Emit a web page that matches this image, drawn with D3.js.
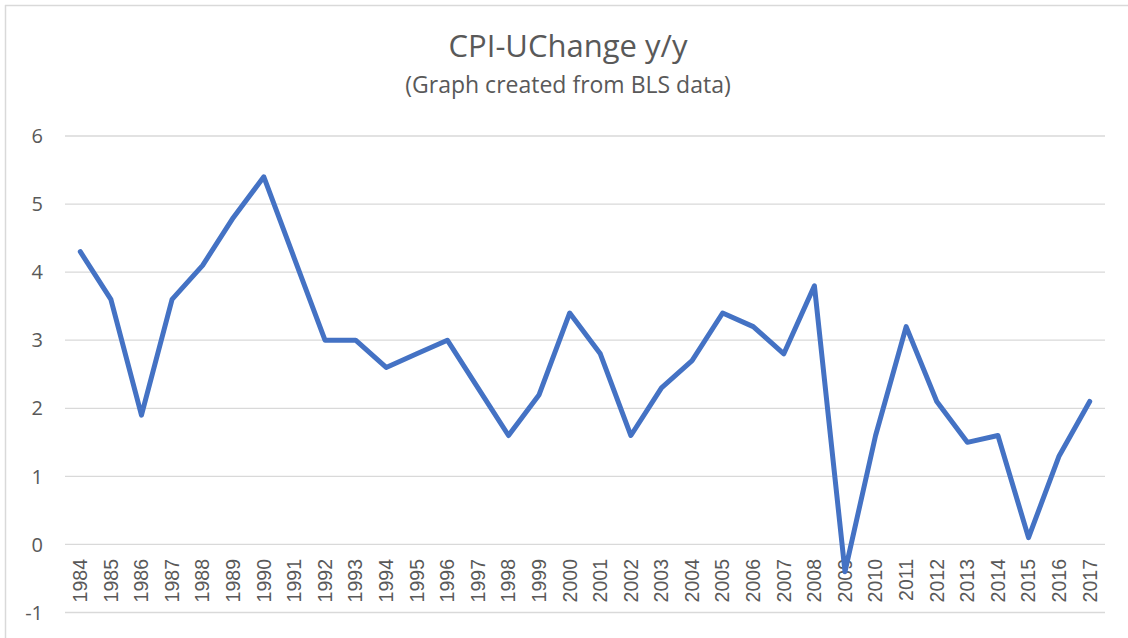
<!DOCTYPE html>
<html>
<head>
<meta charset="utf-8">
<script src="https://cdn.jsdelivr.net/npm/d3@7"></script>
<style>
  body { margin: 0; background: #fff; }
  svg { display: block; }
</style>
</head>
<body>
<svg id="chart"></svg>
<script>
var years = ["1984","1985","1986","1987","1988","1989","1990","1991","1992","1993","1994",
  "1995","1996","1997","1998","1999","2000","2001","2002","2003","2004","2005","2006",
  "2007","2008","2009","2010","2011","2012","2013","2014","2015","2016","2017"];
var cpiChange = [4.3, 3.6, 1.9, 3.6, 4.1, 4.8, 5.4, 4.2, 3.0, 3.0, 2.6,
  2.8, 3.0, 2.3, 1.6, 2.2, 3.4, 2.8, 1.6, 2.3, 2.7, 3.4, 3.2,
  2.8, 3.8, -0.4, 1.6, 3.2, 2.1, 1.5, 1.6, 0.1, 1.3, 2.1];
var yTicks = [-1, 0, 1, 2, 3, 4, 5, 6];

var width = 1128, height = 638;
var svg = d3.select("#chart").attr("width", width).attr("height", height);

// chart frame (only top/left edges are visible in the shot)
svg.append("line").attr("x1", 5).attr("x2", width).attr("y1", 5.5).attr("y2", 5.5)
    .attr("stroke", "#d9d9d9").attr("stroke-width", 1.5);
svg.append("line").attr("x1", 5.5).attr("x2", 5.5).attr("y1", 5).attr("y2", height)
    .attr("stroke", "#d9d9d9").attr("stroke-width", 1.5);

var x = d3.scaleBand().domain(years).range([65, 1105]).padding(0);
var y = d3.scaleLinear().domain([-1, 6]).range([612.5, 136]);

// gridlines
svg.append("g")
    .selectAll("line")
    .data(yTicks)
    .enter()
    .append("line")
    .attr("x1", 65).attr("x2", 1105)
    .attr("y1", d => y(d)).attr("y2", d => y(d))
    .attr("stroke", "#d9d9d9").attr("stroke-width", 1.3);

// y labels
svg.append("g")
    .selectAll("text")
    .data(yTicks)
    .enter()
    .append("text")
    .attr("x", 43)
    .attr("y", d => y(d))
    .attr("dy", "0.36em")
    .attr("text-anchor", "end")
    .style("font", "20px 'Open Sans', sans-serif")
    .attr("fill", "#595959")
    .text(d => d);

// x labels, rotated
svg.append("g")
    .selectAll("text")
    .data(years)
    .enter()
    .append("text")
    .attr("transform", d => "translate(" + (x(d) + x.bandwidth() / 2) + ",559) rotate(-90)")
    .attr("dy", "0.35em")
    .attr("text-anchor", "end")
    .style("font", "19.5px 'Liberation Sans', Arial, sans-serif")
    .attr("fill", "#595959")
    .text(d => d);

// the line
var line = d3.line()
    .x((d, i) => x(years[i]) + x.bandwidth() / 2)
    .y(d => y(d));

svg.append("path")
    .datum(cpiChange)
    .attr("fill", "none")
    .attr("stroke", "#4472C4")
    .attr("stroke-width", 5)
    .attr("stroke-linejoin", "round")
    .attr("stroke-linecap", "round")
    .attr("d", line);

// titles
svg.append("text")
    .attr("x", 568).attr("y", 57)
    .attr("text-anchor", "middle")
    .style("font", "31px 'Open Sans', sans-serif")
    .attr("fill", "#595959")
    .text("CPI-UChange y/y");

svg.append("text")
    .attr("x", 568).attr("y", 93)
    .attr("text-anchor", "middle")
    .style("font", "23px 'Open Sans', sans-serif")
    .attr("fill", "#595959")
    .text("(Graph created from BLS data)");
</script>
</body>
</html>
